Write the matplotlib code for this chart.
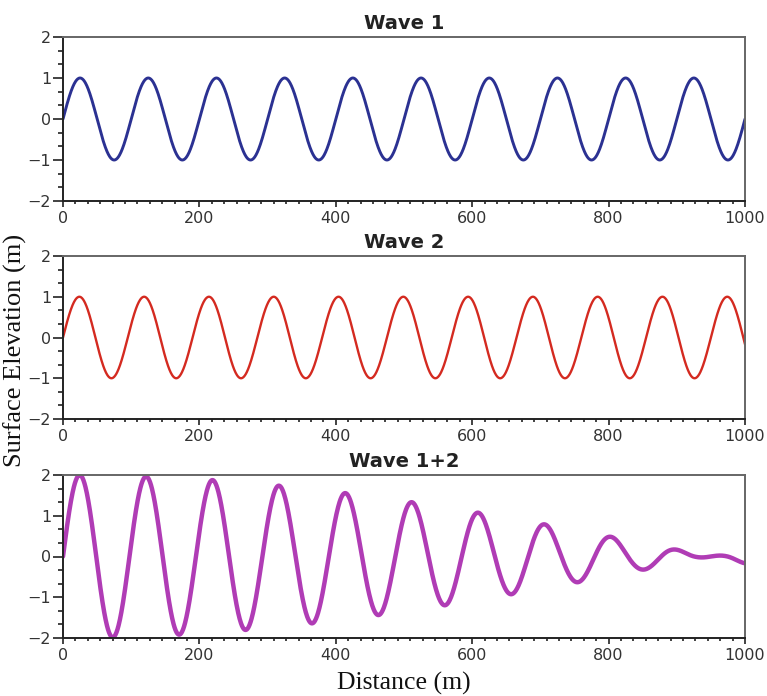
import numpy as np
import matplotlib
matplotlib.use("Agg")
import matplotlib.pyplot as plt
from matplotlib.ticker import AutoMinorLocator

# ---- data ----
titles = ["Wave 1", "Wave 2", "Wave 1+2"]
x_ticks = [0, 200, 400, 600, 800, 1000]
y_ticks = [-2, -1, 0, 1, 2]

# crest / trough positions (m) and elevations (m) of each wave
# (first and last entries are the neighbouring extrema just outside 0..1000)
wave1_extrema_x = [-25, 25, 75, 125, 175, 225, 275, 325, 375, 425, 475, 525,
                   575, 625, 675, 725, 775, 825, 875, 925, 975, 1025]
wave1_extrema_y = [-1.0, 1.0, -1.0, 1.0, -1.0, 1.0, -1.0, 1.0, -1.0, 1.0, -1.0,
                   1.0, -1.0, 1.0, -1.0, 1.0, -1.0, 1.0, -1.0, 1.0, -1.0, 1.0]

wave2_extrema_x = [-24, 24, 71, 119, 166, 214, 261, 309, 356, 404, 451, 499,
                   546, 594, 641, 689, 736, 784, 831, 879, 926, 974, 1021]
wave2_extrema_y = [-1.0, 1.0, -1.0, 1.0, -1.0, 1.0, -1.0, 1.0, -1.0, 1.0, -1.0,
                   1.0, -1.0, 1.0, -1.0, 1.0, -1.0, 1.0, -1.0, 1.0, -1.0, 1.0, -1.0]

colors = ["#2b3192", "#d42a20", "#b03cb5"]
widths = [2.1, 1.7, 3.2]

distance = np.linspace(0, 1000, 2001)


def smooth_through_extrema(x, ex, ey):
    """Draw a smooth half-cosine arc between consecutive crests/troughs."""
    ex = np.asarray(ex, float)
    ey = np.asarray(ey, float)
    i = np.clip(np.searchsorted(ex, x, side="right") - 1, 0, len(ex) - 2)
    x0, x1 = ex[i], ex[i + 1]
    y0, y1 = ey[i], ey[i + 1]
    t = (x - x0) / (x1 - x0)
    return (y0 + y1) / 2 + (y0 - y1) / 2 * np.cos(np.pi * t)


wave1 = smooth_through_extrema(distance, wave1_extrema_x, wave1_extrema_y)
wave2 = smooth_through_extrema(distance, wave2_extrema_x, wave2_extrema_y)
wave_sum = wave1 + wave2
series = [wave1, wave2, wave_sum]

W, H = 767, 696
fig = plt.figure(figsize=(W / 100, H / 100), dpi=100)

left, right = 63, 745
panels = [(37, 201), (256, 419), (475, 638)]  # top, bottom in pixels

for k, (top, bot) in enumerate(panels):
    ax = fig.add_axes([left / W, 1 - bot / H, (right - left) / W, (bot - top) / H])
    ax.plot(distance, series[k], color=colors[k], lw=widths[k],
            solid_capstyle="round", solid_joinstyle="round")
    ax.set_xlim(0, 1000)
    ax.set_ylim(-2, 2)
    ax.set_xticks(x_ticks)
    ax.set_yticks(y_ticks)
    ax.xaxis.set_minor_locator(AutoMinorLocator(11))
    ax.yaxis.set_minor_locator(AutoMinorLocator(3))
    ax.tick_params(axis="x", which="major", length=4, width=1.2, pad=3.5,
                   labelsize=11.5, labelcolor="#333333", color="#222222")
    ax.tick_params(axis="x", which="minor", length=2.5, width=1.2, color="#222222")
    ax.tick_params(axis="y", which="major", length=7, width=1.2, pad=1.5,
                   labelsize=11.5, labelcolor="#333333", color="#222222")
    ax.tick_params(axis="y", which="minor", length=3.5, width=1.2, color="#222222")
    for s in ["left", "bottom"]:
        ax.spines[s].set_color("#222222")
        ax.spines[s].set_linewidth(1.4)
    for s in ["top", "right"]:
        ax.spines[s].set_color("#666666")
        ax.spines[s].set_linewidth(1.4)
    ax.set_title(titles[k], fontsize=14, fontweight="bold", color="#222222", pad=6)
    if k == 2:
        ax.set_xlabel("Distance (m)", family="Liberation Serif", fontsize=18.5,
                      color="#111111", labelpad=6)

fig.text(15 / W, 1 - 350 / H, "Surface Elevation (m)", family="Liberation Serif",
         fontsize=19, rotation=90, ha="center", va="center", color="#111111")

fig.savefig("out.png", dpi=100)
